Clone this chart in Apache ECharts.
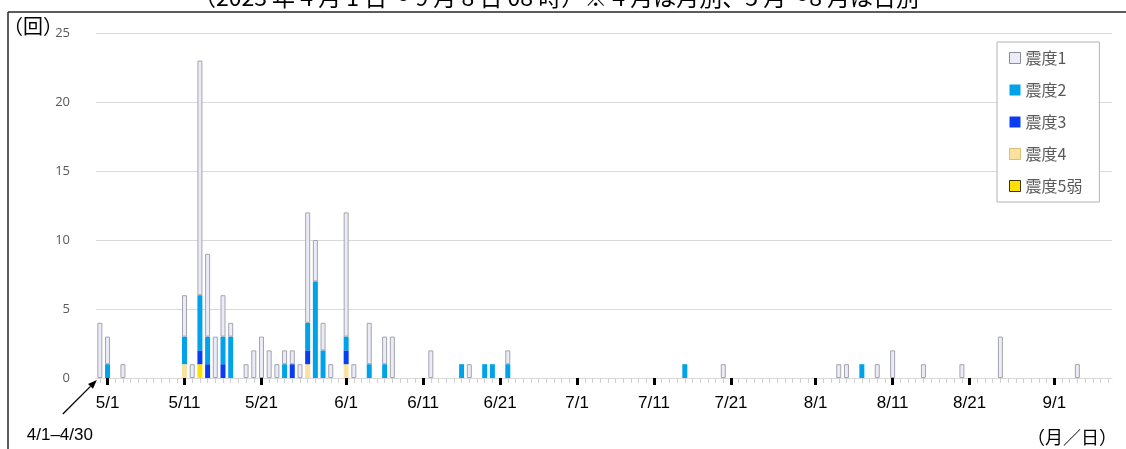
<!DOCTYPE html>
<html>
<head>
<meta charset="utf-8">
<script src="https://cdn.jsdelivr.net/npm/echarts@6/dist/echarts.min.js"></script>
<style>
  html, body { margin: 0; padding: 0; background: #ffffff; }
  #chart { width: 1126px; height: 449px; }
</style>
</head>
<body>
<div id="chart"></div>
<script>
// April is counted as one monthly total, May onward day by day (until 9/8).
const aprilLabel = '4/1-4/30';
const dailyMonths = [5, 6, 7, 8, 9];
const dailyDayCounts = [31, 30, 31, 31, 8];

// Days on which at least one earthquake was observed
const eventDays = ['4/1-4/30', '5/1', '5/3', '5/11', '5/12', '5/13', '5/14', '5/15', '5/16', '5/17',
  '5/19', '5/20', '5/21', '5/22', '5/23', '5/24', '5/25', '5/26', '5/27', '5/28',
  '5/29', '5/30', '6/1', '6/2', '6/4', '6/6', '6/7', '6/12', '6/16', '6/17',
  '6/19', '6/20', '6/22', '7/15', '7/20', '8/4', '8/5', '8/7', '8/9', '8/11',
  '8/15', '8/20', '8/25', '9/4'];

// Counts per maximum seismic intensity, aligned with eventDays
const shindo1 = [4, 2, 1, 3, 1, 17, 6, 3, 3, 1,
  1, 2, 3, 2, 1, 1, 1, 1, 8, 3,
  2, 1, 9, 1, 3, 2, 3, 2, 0, 1,
  0, 0, 1, 0, 1, 1, 1, 0, 1, 2,
  1, 1, 3, 1];
const shindo2 = [0, 1, 0, 2, 0, 4, 2, 0, 2, 3,
  0, 0, 0, 0, 0, 1, 0, 0, 2, 7,
  2, 0, 1, 0, 1, 1, 0, 0, 1, 0,
  1, 1, 1, 1, 0, 0, 0, 1, 0, 0,
  0, 0, 0, 0];
const shindo3 = [0, 0, 0, 0, 0, 1, 1, 0, 1, 0,
  0, 0, 0, 0, 0, 0, 1, 0, 1, 0,
  0, 0, 1, 0, 0, 0, 0, 0, 0, 0,
  0, 0, 0, 0, 0, 0, 0, 0, 0, 0,
  0, 0, 0, 0];
const shindo4 = [0, 0, 0, 1, 0, 0, 0, 0, 0, 0,
  0, 0, 0, 0, 0, 0, 0, 0, 1, 0,
  0, 0, 1, 0, 0, 0, 0, 0, 0, 0,
  0, 0, 0, 0, 0, 0, 0, 0, 0, 0,
  0, 0, 0, 0];
const shindo5lower = [0, 0, 0, 0, 0, 1, 0, 0, 0, 0,
  0, 0, 0, 0, 0, 0, 0, 0, 0, 0,
  0, 0, 0, 0, 0, 0, 0, 0, 0, 0,
  0, 0, 0, 0, 0, 0, 0, 0, 0, 0,
  0, 0, 0, 0];

const seriesNames = ['震度1', '震度2', '震度3', '震度4', '震度5弱'];
const seriesColors = ['#ececf8', '#00a2ea', '#0a3cf2', '#fae29e', '#ffe100'];
const yTicks = [0, 5, 10, 15, 20, 25];
const labeledDays = [1, 11, 21];

const titleText = '（2023 年 4 月 1 日～ 9 月 8 日 08 時）※ 4 月は月別、5 月～8 月は日別';

// Category list: the April total followed by every day from 5/1 to 9/8
const categories = [aprilLabel];
dailyMonths.forEach((m, i) => {
  for (let d = 1; d <= dailyDayCounts[i]; d++) categories.push(m + '/' + d);
});

function expand(values) {
  const byDay = {};
  eventDays.forEach((day, i) => { byDay[day] = values[i]; });
  return categories.map(c => (byDay[c] ? byDay[c] : null));
}

const isLabeled = (idx, value) => {
  const parts = String(value).split('/');
  return parts.length === 2 && labeledDays.indexOf(Number(parts[1])) >= 0 && value !== aprilLabel;
};

const jpFont = '"Noto Sans CJK JP", "Noto Sans", sans-serif';
const numFont = '"Liberation Sans Narrow", "Liberation Sans", sans-serif';

const stackOrder = [
  { name: '震度5弱', values: shindo5lower, color: seriesColors[4], border: null },
  { name: '震度4', values: shindo4, color: seriesColors[3], border: null },
  { name: '震度3', values: shindo3, color: seriesColors[2], border: null },
  { name: '震度2', values: shindo2, color: seriesColors[1], border: null },
  { name: '震度1', values: shindo1, color: seriesColors[0], border: '#a4a4b0' }
];

const chart = echarts.init(document.getElementById('chart'), null, { renderer: 'canvas' });

const option = {
  animation: false,
  backgroundColor: '#ffffff',
  grid: { left: 96, right: 14, top: 33, bottom: 71, containLabel: false },
  legend: {
    orient: 'vertical',
    left: 997,
    top: 42,
    padding: [6, 17, 6, 12],
    borderColor: '#b4b4b4',
    borderWidth: 1,
    backgroundColor: '#ffffff',
    itemWidth: 11,
    itemHeight: 11,
    itemGap: 12,
    icon: 'rect',
    textStyle: { color: '#595959', fontSize: 16, lineHeight: 20, fontFamily: jpFont },
    data: [
      { name: '震度1', itemStyle: { borderColor: '#8c8c96', borderWidth: 1 } },
      { name: '震度2' },
      { name: '震度3' },
      { name: '震度4', itemStyle: { borderColor: '#d8c07a', borderWidth: 1 } },
      { name: '震度5弱', itemStyle: { borderColor: '#3a3300', borderWidth: 1 } }
    ]
  },
  xAxis: [
    {
      type: 'category',
      data: categories,
      boundaryGap: true,
      axisLine: { show: true, lineStyle: { color: '#d9d9d9', width: 1 } },
      axisTick: { show: true, alignWithLabel: true, interval: 0, length: 5, lineStyle: { color: '#d0d0d0', width: 1 } },
      axisLabel: { show: false },
      splitLine: { show: false }
    },
    {
      type: 'category',
      data: categories,
      position: 'bottom',
      boundaryGap: true,
      axisLine: { show: false },
      axisTick: { show: true, alignWithLabel: true, interval: isLabeled, length: 7, lineStyle: { color: '#000000', width: 3 } },
      axisLabel: {
        show: true, interval: isLabeled, margin: 17,
        color: '#000000', fontSize: 17, fontFamily: numFont
      },
      splitLine: { show: false }
    }
  ],
  yAxis: {
    type: 'value',
    min: yTicks[0],
    max: yTicks[yTicks.length - 1],
    interval: yTicks[1] - yTicks[0],
    axisLine: { show: false },
    axisTick: { show: false },
    axisLabel: { color: '#595959', fontSize: 13, margin: 26, fontFamily: '"Open Sans", "Noto Sans", sans-serif' },
    splitLine: { lineStyle: { color: '#d9d9d9', width: 1 } }
  },
  series: stackOrder.map(s => ({
    name: s.name,
    type: 'bar',
    stack: 'count',
    xAxisIndex: 0,
    barWidth: 5,
    data: expand(s.values),
    itemStyle: s.border
      ? { color: s.color, borderColor: s.border, borderWidth: 1 }
      : { color: s.color, borderWidth: 0 }
  }))
};

chart.setOption(option);

// Annotations: frame, unit labels, heading and the arrow pointing at the April total
const tip0 = chart.convertToPixel({ xAxisIndex: 0, yAxisIndex: 0 }, [aprilLabel, 0]);
const tip = [tip0[0] - 3, tip0[1] + 2];
const tail = [tip[0] - 34, tip[1] + 34];
const dx = tip[0] - tail[0], dy = tip[1] - tail[1];
const len = Math.sqrt(dx * dx + dy * dy);
const ux = dx / len, uy = dy / len;
const headLen = 9, headHalf = 3.5;
const bx = tip[0] - ux * headLen, by = tip[1] - uy * headLen;

chart.setOption({
  graphic: [
    { type: 'line', shape: { x1: 8, y1: 12, x2: 1126, y2: 12 }, style: { stroke: '#262626', lineWidth: 1.5 }, silent: true },
    { type: 'line', shape: { x1: 8, y1: 12, x2: 8, y2: 449 }, style: { stroke: '#262626', lineWidth: 1.5 }, silent: true },
    {
      type: 'text', x: 556, y: -3,
      style: { text: titleText, font: '23px ' + jpFont, fill: '#000000', textAlign: 'center', textVerticalAlign: 'middle' }, silent: true
    },
    {
      type: 'text', x: 3, y: 26,
      style: { text: '（回）', font: '20px ' + jpFont, fill: '#000000', textVerticalAlign: 'middle' }, silent: true
    },
    {
      type: 'text', x: 1027, y: 437,
      style: { text: '（月／日）', font: '18px ' + jpFont, fill: '#000000', textVerticalAlign: 'middle' }, silent: true
    },
    {
      type: 'text', x: tail[0] - 3, y: 435,
      style: { text: '4/1–4/30', font: '17px ' + numFont, fill: '#000000', textAlign: 'center', textVerticalAlign: 'middle' }, silent: true
    },
    {
      type: 'line', shape: { x1: tail[0], y1: tail[1], x2: bx, y2: by },
      style: { stroke: '#000000', lineWidth: 1.3 }, silent: true
    },
    {
      type: 'polygon',
      shape: { points: [tip, [bx - uy * headHalf, by + ux * headHalf], [bx + uy * headHalf, by - ux * headHalf]] },
      style: { fill: '#000000' }, silent: true
    }
  ]
});
</script>
</body>
</html>
